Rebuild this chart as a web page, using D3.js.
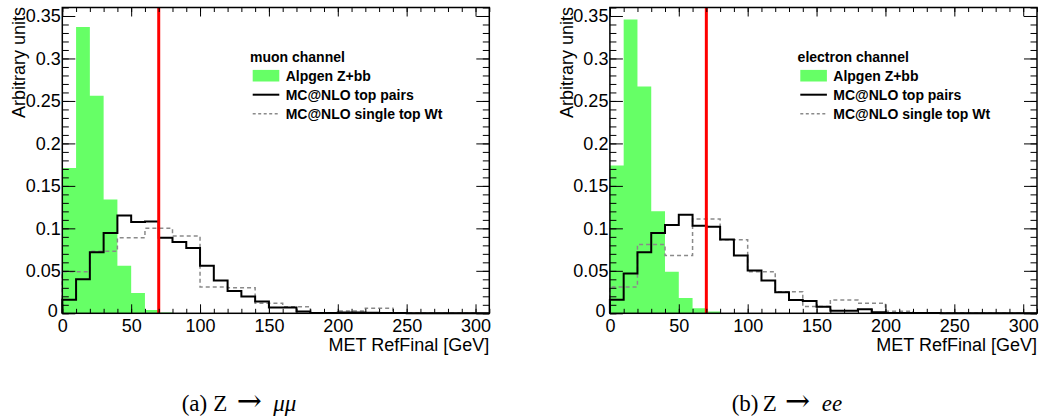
<!DOCTYPE html>
<html>
<head>
<meta charset="utf-8">
<script src="https://cdn.jsdelivr.net/npm/d3@7"></script>
<style>
  body { margin: 0; background: #fff; }
  svg { display: block; font-family: "Liberation Sans", Arial, sans-serif; }
  .caption { font-family: "Liberation Serif", "Times New Roman", serif; }
</style>
</head>
<body>
<svg width="1043" height="419"></svg>
<script>
// bin edges (GeV)
const edges10 = [0, 10, 20, 30, 40, 50, 60, 70, 80, 90, 100, 110, 120, 130, 140, 150,
  160, 170, 180, 190, 200, 210, 220, 230, 240, 250, 260, 270, 280, 290, 300, 310];
const edges20 = [0, 20, 40, 60, 80, 100, 120, 140, 160, 180, 200, 220, 240, 260, 280, 300];

// muon channel
const muonZbb = [0.171, 0.337, 0.256, 0.134, 0.056, 0.024, 0.004, 0.001, 0.0005, 0,
  0, 0, 0, 0, 0, 0, 0, 0, 0, 0, 0, 0, 0, 0, 0, 0, 0, 0, 0, 0, 0];
const muonTop = [0.016, 0.040, 0.072, 0.0945, 0.115, 0.1075, 0.108, 0.089, 0.084, 0.077,
  0.056, 0.0385, 0.0264, 0.0197, 0.0138, 0.0067, 0.0067, 0.002, 0.0005, 0.0004,
  0.0008, 0.0008, 0.0007, 0.0005, 0.0003, 0.0002, 0.0002, 0.0001, 0.0001, 0.0001, 0];
const muonWt = [0.049, 0.073, 0.089, 0.100, 0.091, 0.031, 0.0302, 0.0118, 0.0078, 0.0005,
  0.0028, 0.006, 0.0003, 0.0002, 0.0002];

// electron channel
const elecZbb = [0.174, 0.346, 0.267, 0.120, 0.049, 0.018, 0.006, 0.002, 0, 0,
  0, 0, 0, 0, 0, 0, 0, 0, 0, 0, 0, 0, 0, 0, 0, 0, 0, 0, 0, 0, 0];
const elecTop = [0.016, 0.047, 0.072, 0.0945, 0.104, 0.116, 0.103, 0.102, 0.087, 0.068,
  0.0503, 0.0385, 0.0248, 0.0157, 0.0145, 0.0078, 0.0031, 0.003, 0.0047, 0.0012,
  0.0005, 0.0004, 0.0003, 0.0003, 0.0002, 0.0002, 0.0001, 0.0001, 0.0001, 0.0001, 0];
const elecWt = [0.031, 0.081, 0.068, 0.111, 0.0866, 0.049, 0.0255, 0.0079, 0.0157, 0.0118,
  0.0025, 0.0005, 0.0003, 0.0002, 0.0002];

const cutValue = 70;
const legendLabels = ['Alpgen Z+bb', 'MC@NLO top pairs', 'MC@NLO single top Wt'];
const yTicks = [0, 0.05, 0.1, 0.15, 0.2, 0.25, 0.3, 0.35];
const xTicks = [0, 50, 100, 150, 200, 250, 300];

const panels = [
  { left: 62.3, right: 489.3, channel: 'muon channel', zbb: muonZbb, top: muonTop, wt: muonWt,
    capCx: 241.7, cap: ['(a)', 'Z', '→', 'μμ'], capOff: [-60, -28.4, -5, 31.6] },
  { left: 609.9, right: 1037, channel: 'electron channel', zbb: elecZbb, top: elecTop, wt: elecWt,
    capCx: 790, cap: ['(b)', 'Z', '→', 'ee'], capOff: [-58.3, -27.3, -4.9, 31.7] }
];

const svg = d3.select('svg');
const plotTop = 7.5, plotBottom = 313.3;
const green = '#66ff66';

// step outline for a histogram
const histPoints = (edges, vals) => {
  const pts = [[edges[0], 0]];
  vals.forEach((v, i) => pts.push([edges[i], v]));
  pts.push([edges[vals.length], vals[vals.length - 1]]);
  pts.push([edges[vals.length], 0]);
  return pts;
};

panels.forEach(p => {
  const x = d3.scaleLinear().domain([0, 310]).range([p.left, p.right]);
  const y = d3.scaleLinear().domain([0, 0.36]).range([plotBottom, plotTop]);
  const g = svg.append('g');

  // Z+bb filled histogram
  const area = d3.area().curve(d3.curveStepAfter)
    .x(d => x(d[0])).y0(y(0)).y1(d => y(d[1]));
  const zbbPts = p.zbb.map((v, i) => [edges10[i], v]);
  zbbPts.push([edges10[p.zbb.length], p.zbb[p.zbb.length - 1]]);
  g.append('path').attr('d', area(zbbPts)).attr('fill', green);

  const line = d3.line().curve(d3.curveStepAfter).x(d => x(d[0])).y(d => y(d[1]));

  // single top Wt (dashed)
  g.append('path').attr('d', line(histPoints(edges20, p.wt)))
    .attr('fill', 'none').attr('stroke', '#8a8a8a').attr('stroke-width', 1.5)
    .attr('stroke-dasharray', '4,3');

  // top pairs
  g.append('path').attr('d', line(histPoints(edges10, p.top)))
    .attr('fill', 'none').attr('stroke', '#000').attr('stroke-width', 2);

  // cut line
  g.append('line')
    .attr('x1', x(cutValue)).attr('x2', x(cutValue))
    .attr('y1', y(0)).attr('y2', plotTop)
    .attr('stroke', '#ff0000').attr('stroke-width', 3);

  // axes: ticks inside on all four sides
  const minorX = d3.range(0, 311, 10);
  const minorY = d3.range(0, 0.361, 0.01);
  const addAxis = (axis, tf) => {
    const a = g.append('g').attr('transform', tf).call(axis);
    a.select('.domain').remove();
    a.selectAll('line').attr('stroke', '#000').attr('stroke-width', 1);
    return a;
  };
  addAxis(d3.axisBottom(x).tickValues(minorX).tickSize(-4.5).tickFormat(''), `translate(0,${plotBottom})`);
  addAxis(d3.axisTop(x).tickValues(minorX).tickSize(-4.5).tickFormat(''), `translate(0,${plotTop})`);
  addAxis(d3.axisTop(x).tickValues(xTicks).tickSize(-9).tickFormat(''), `translate(0,${plotTop})`);
  addAxis(d3.axisLeft(y).tickValues(minorY).tickSize(-6.5).tickFormat(''), `translate(${p.left},0)`);
  addAxis(d3.axisRight(y).tickValues(minorY).tickSize(-6.5).tickFormat(''), `translate(${p.right},0)`);
  addAxis(d3.axisRight(y).tickValues(yTicks).tickSize(-13).tickFormat(''), `translate(${p.right},0)`);

  const xa = addAxis(d3.axisBottom(x).tickValues(xTicks).tickSize(-9).tickPadding(5.5)
    .tickFormat(d3.format('d')), `translate(0,${plotBottom})`);
  xa.selectAll('text').attr('font-size', 18).attr('fill', '#000').attr('font-family', null);

  const ya = addAxis(d3.axisLeft(y).tickValues(yTicks).tickSize(-13).tickPadding(1.5)
    .tickFormat(d => d === 0 ? '0' : String(d)), `translate(${p.left},0)`);
  ya.selectAll('text').attr('font-size', 18).attr('fill', '#000').attr('font-family', null);
  // ROOT nudges the y "0" up-left, clear of the x "0"
  ya.selectAll('text').filter(d => d === 0).attr('x', -4.5).attr('dy', '0.2em');

  // frame
  g.append('rect')
    .attr('x', p.left).attr('y', plotTop)
    .attr('width', p.right - p.left).attr('height', plotBottom - plotTop)
    .attr('fill', 'none').attr('stroke', '#000').attr('stroke-width', 1.5);

  // axis titles
  g.append('text')
    .attr('x', p.right).attr('y', 351.3)
    .attr('text-anchor', 'end').attr('font-size', 18)
    .text('MET RefFinal [GeV]');
  g.append('text')
    .attr('transform', `translate(${p.left - 37.3},${plotTop - 0.5}) rotate(-90)`)
    .attr('text-anchor', 'end').attr('font-size', 18)
    .text('Arbitrary units');

  // legend
  const lx = p.left + 187.7;
  const leg = g.append('g').attr('font-size', 14).attr('font-weight', 'bold');
  leg.append('text').attr('x', lx).attr('y', 61.5).text(p.channel);
  const rowY = [75.7, 94.7, 113.7];
  const bx0 = p.left + 190.4, bx1 = p.left + 217;
  leg.append('rect').attr('x', bx0).attr('y', rowY[0] - 5.8)
    .attr('width', bx1 - bx0).attr('height', 11.6).attr('fill', green);
  leg.append('line').attr('x1', bx0).attr('x2', bx1).attr('y1', rowY[1]).attr('y2', rowY[1])
    .attr('stroke', '#000').attr('stroke-width', 2);
  leg.append('line').attr('x1', bx0).attr('x2', bx1).attr('y1', rowY[2]).attr('y2', rowY[2])
    .attr('stroke', '#8a8a8a').attr('stroke-width', 1.5).attr('stroke-dasharray', '3,2.5');
  legendLabels.forEach((t, i) => {
    leg.append('text').attr('x', p.left + 223.4).attr('y', rowY[i] + 5).text(t);
  });

  // caption
  const cap = svg.append('text').attr('class', 'caption').attr('font-size', 23).attr('y', 411);
  p.cap.forEach((t, i) => {
    const ts = cap.append('tspan').attr('x', p.capCx + p.capOff[i]).text(t);
    if (i === 2) ts.attr('font-size', 30).attr('font-family', '"DejaVu Serif", serif');
    if (i === 3) ts.attr('font-style', 'italic');
  });
});
</script>
</body>
</html>
